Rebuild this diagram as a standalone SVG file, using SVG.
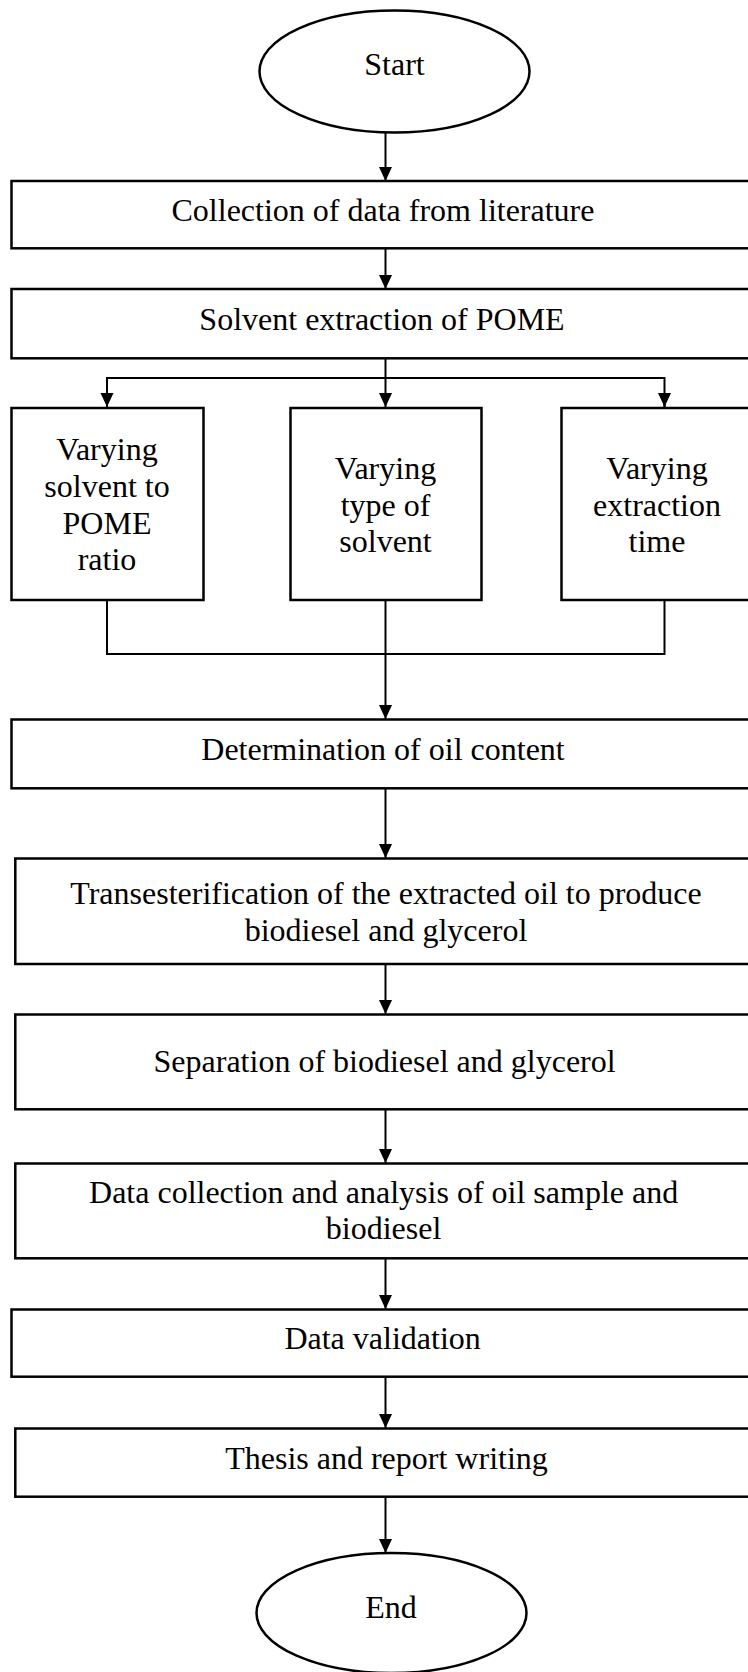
<svg xmlns="http://www.w3.org/2000/svg" width="748" height="1672" viewBox="0 0 748 1672">
<style>
.box{fill:#fff;stroke:#000;stroke-width:2.5}
.t{font-family:"Liberation Serif","Times New Roman",serif;font-size:32px;fill:#000;text-anchor:middle}
.c{fill:none;stroke:#000;stroke-width:2}
</style>
<defs>
<marker id="ah" markerUnits="userSpaceOnUse" markerWidth="15" markerHeight="14" refX="14" refY="6.5" orient="auto">
<path d="M0,0 L14,6.5 L0,13 z" fill="#000"/>
</marker>
</defs>
<rect width="748" height="1672" fill="#fff"/>
<g id="connectors">
<line class="c" x1="385.5" y1="133" x2="385.5" y2="181" marker-end="url(#ah)"/>
<line class="c" x1="385.5" y1="249" x2="385.5" y2="289" marker-end="url(#ah)"/>
<polyline class="c" points="385.5,358 385.5,378"/>
<polyline class="c" points="107,407 107,378 664.5,378 664.5,407"/>
<line class="c" x1="107" y1="395" x2="107" y2="407" marker-end="url(#ah)"/>
<line class="c" x1="385.5" y1="378" x2="385.5" y2="407" marker-end="url(#ah)"/>
<line class="c" x1="664.5" y1="395" x2="664.5" y2="407" marker-end="url(#ah)"/>
<polyline class="c" points="107,600 107,654 664.5,654 664.5,600"/>
<line class="c" x1="385.5" y1="600" x2="385.5" y2="719" marker-end="url(#ah)"/>
<line class="c" x1="385.5" y1="789" x2="385.5" y2="858" marker-end="url(#ah)"/>
<line class="c" x1="385.5" y1="964" x2="385.5" y2="1014" marker-end="url(#ah)"/>
<line class="c" x1="385.5" y1="1110" x2="385.5" y2="1163" marker-end="url(#ah)"/>
<line class="c" x1="385.5" y1="1259" x2="385.5" y2="1309" marker-end="url(#ah)"/>
<line class="c" x1="385.5" y1="1377" x2="385.5" y2="1428" marker-end="url(#ah)"/>
<line class="c" x1="385.5" y1="1497" x2="385.5" y2="1553" marker-end="url(#ah)"/>
</g>
<g id="start">
<ellipse class="box" cx="394.5" cy="71.5" rx="135" ry="61"/>
<text class="t" x="394.5" y="75">Start</text>
</g>
<g id="collection">
<rect class="box" x="11.5" y="181" width="760" height="67.3"/>
<text class="t" x="383" y="221">Collection of data from literature</text>
</g>
<g id="solvent-extraction">
<rect class="box" x="11.5" y="289" width="760" height="69.3"/>
<text class="t" x="382" y="330">Solvent extraction of POME</text>
</g>
<g id="vary-ratio">
<rect class="box" x="11.5" y="408" width="192" height="192"/>
<text class="t" x="107" y="460">Varying</text>
<text class="t" x="107" y="497">solvent to</text>
<text class="t" x="107" y="533.5">POME</text>
<text class="t" x="107" y="570">ratio</text>
</g>
<g id="vary-type">
<rect class="box" x="290.5" y="408" width="191" height="192"/>
<text class="t" x="385.5" y="479">Varying</text>
<text class="t" x="385.5" y="515.7">type of</text>
<text class="t" x="385.5" y="552">solvent</text>
</g>
<g id="vary-time">
<rect class="box" x="561.5" y="408" width="200" height="192"/>
<text class="t" x="657" y="479">Varying</text>
<text class="t" x="657" y="515.7">extraction</text>
<text class="t" x="657" y="552">time</text>
</g>
<g id="determination">
<rect class="box" x="11.5" y="719.5" width="760" height="68.8"/>
<text class="t" x="383" y="760">Determination of oil content</text>
</g>
<g id="transesterification">
<rect class="box" x="15.3" y="858.5" width="760" height="105.5"/>
<text class="t" x="386" y="904">Transesterification of the extracted oil to produce</text>
<text class="t" x="386" y="941">biodiesel and glycerol</text>
</g>
<g id="separation">
<rect class="box" x="15.3" y="1014.5" width="760" height="94.8"/>
<text class="t" x="384.6" y="1072">Separation of biodiesel and glycerol</text>
</g>
<g id="data-collection">
<rect class="box" x="15.3" y="1163.5" width="760" height="94.8"/>
<text class="t" x="383.6" y="1202.7">Data collection and analysis of oil sample and</text>
<text class="t" x="383.6" y="1239.3">biodiesel</text>
</g>
<g id="validation">
<rect class="box" x="11.5" y="1309.5" width="760" height="67.2"/>
<text class="t" x="382.6" y="1349.3">Data validation</text>
</g>
<g id="thesis">
<rect class="box" x="15.3" y="1428.5" width="760" height="68.2"/>
<text class="t" x="386.5" y="1469.3">Thesis and report writing</text>
</g>
<g id="end">
<ellipse class="box" cx="391.5" cy="1613" rx="135" ry="60"/>
<text class="t" x="391" y="1617.7">End</text>
</g>
</svg>
